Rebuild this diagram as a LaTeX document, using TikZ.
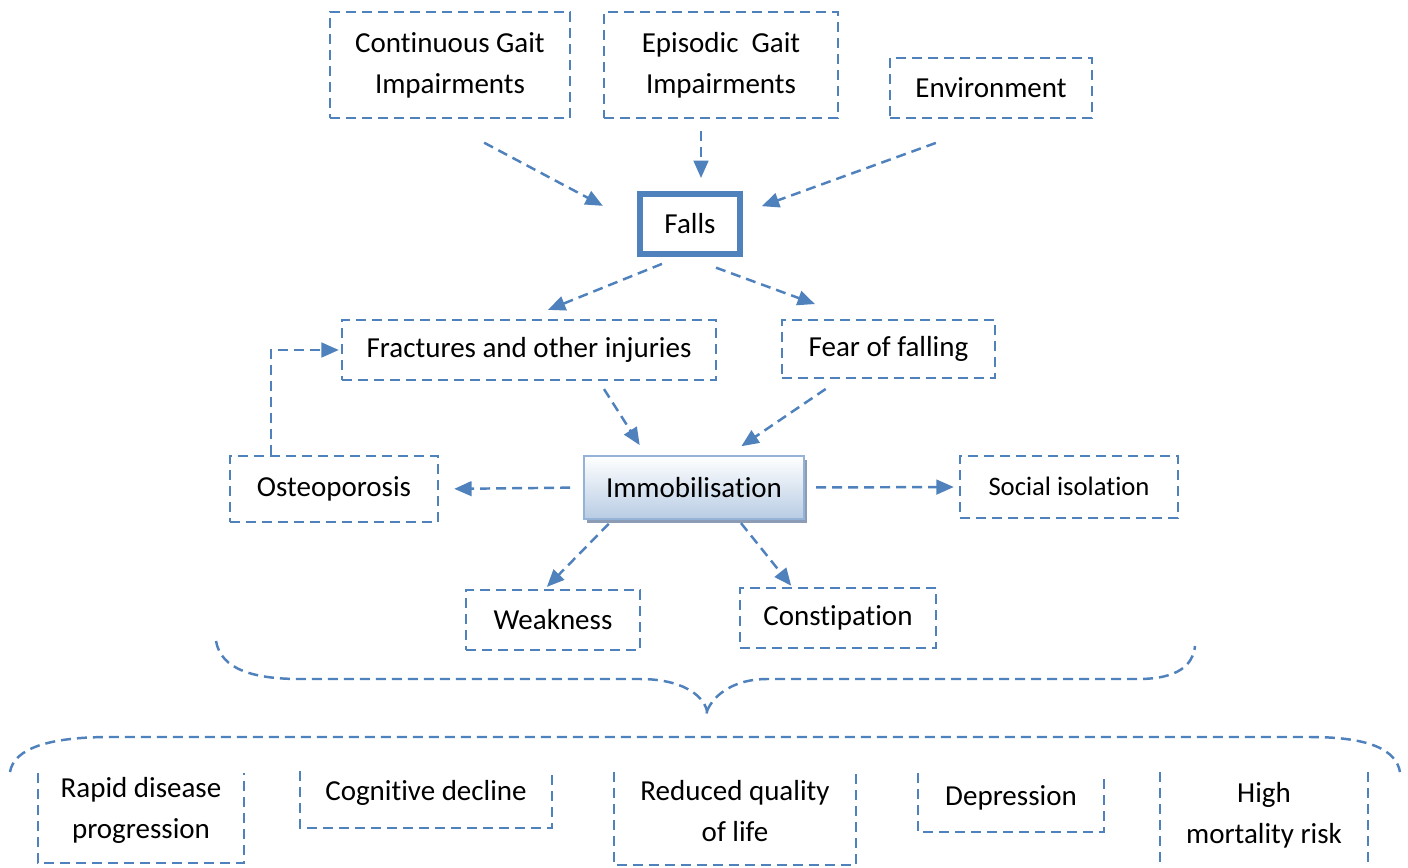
\documentclass[tikz,border=0pt]{standalone}
\usepackage{fontspec}
\setmainfont{Carlito}[Ligatures={NoCommon}]
\usetikzlibrary{arrows.meta,calc,shadows}
\definecolor{bl}{RGB}{79,129,189}
\definecolor{immbot}{RGB}{184,204,228}
\definecolor{immdraw}{RGB}{149,179,215}
\definecolor{immshadow}{RGB}{140,156,180}
\newcommand\mainsz{\fontsize{21.75pt}{30.75pt}\selectfont}
\newcommand\smallsz{\fontsize{20pt}{24pt}\selectfont}
\begin{document}
\begin{tikzpicture}[x=0.75pt,y=-0.75pt,
  dsh/.style={draw=bl, line width=1.85pt, dash pattern=on 7.5pt off 4.5pt},
  box/.style={dsh, align=center, inner sep=0pt, font=\mainsz},
  txt/.style={align=center, inner sep=0pt, font=\mainsz},
  arr/.style={dsh, -{Triangle[length=13pt,width=11pt]}}]
\fill[white] (0,0) rectangle (1408,867);
\useasboundingbox (0,0) rectangle (1408,867);

% top row
\node[box, minimum width=180pt, minimum height=79.5pt] (cont) at (450,65) {Continuous Gait\\Impairments};
\node[box, minimum width=175.5pt, minimum height=79.5pt] (epi) at (721,65) {Episodic\ \ Gait\\Impairments};
\node[box, minimum width=151.5pt, minimum height=45pt] (env) at (991,88) {Environment};

% falls
\node[draw=bl, line width=4.5pt, minimum width=75pt, minimum height=45pt, inner sep=0pt, font=\mainsz] (falls) at (690,224) {\raisebox{-1.5pt}{Falls}};

% second row
\node[box, minimum width=280.5pt, minimum height=45pt] (fract) at (529,350) {\raisebox{-1.5pt}{Fractures and other injuries}};
\node[box, minimum width=159.75pt, minimum height=43.5pt] (fear) at (888.5,349) {\raisebox{-1pt}{Fear of falling}};

% third row
\node[box, minimum width=156pt, minimum height=49.5pt] (osteo) at (334,489) {Osteoporosis};
\node[draw=immdraw, line width=1.5pt, top color=white, bottom color=immbot,
      drop shadow={shadow xshift=2.5pt, shadow yshift=-3pt, fill=immshadow, opacity=1},
      minimum width=165pt, minimum height=47.25pt, inner sep=0pt, font=\mainsz] (immob) at (694,487.5) {Immobilisation};
\node[box, minimum width=163.5pt, minimum height=46.5pt, font=\smallsz] (social) at (1069,487) {\raisebox{1.5pt}{Social isolation}};

% fourth row
\node[box, minimum width=130.5pt, minimum height=45pt] (weak) at (553,620) {Weakness};
\node[box, minimum width=147pt, minimum height=45pt] (const) at (838,618) {\raisebox{-1.5pt}{Constipation}};

% arrows
\draw[arr, shorten <=37.5pt, shorten >=29pt] ($(cont.south)+(-10,0)$) -- (falls.west);
\draw[arr, shorten <=9pt, shorten >=9.75pt] ($(epi.south)+(-20,0)$) -- ($(falls.north)+(11,0)$);
\draw[arr, shorten <=52pt, shorten >=15pt] ($(env.south)+(10,0)$) -- ($(falls.east)+(0,-11)$);
\draw[arr, shorten <=13.8pt, shorten >=17.8pt] ($(falls.south)+(-11,0)$) -- ($(fract.north)+(-3,0)$);
\draw[arr, shorten <=23.2pt, shorten >=32pt] ($(falls.south)+(-3,0)$) -- ($(fear.north)+(-33.5,0)$);
\draw[arr, shorten <=7pt, shorten >=8.8pt] ($(fract.south)+(70,0)$) -- ($(immob.north)+(-48,0)$);
\draw[arr, shorten <=13pt, shorten >=11.7pt] ($(fear.south)+(-48.5,0)$) -- ($(immob.north)+(34.5,0)$);
\draw[arr, shorten <=9.75pt, shorten >=11.25pt] (immob.west) -- (osteo.east);
\draw[arr, shorten <=8.25pt, shorten >=3.75pt] (immob.east) -- (social.west);
\draw[arr, shorten <=4pt, shorten >=2pt] ($(immob.south)+(-81.5,0)$) -- ($(weak.north)+(-8,0)$);
\draw[arr, shorten <=3pt, shorten >=1pt] ($(immob.south)+(44.5,0)$) -- ($(const.north)+(-46,0)$);
\draw[arr, shorten >=1.5pt] ($(osteo.north west)+(42,0)$) |- (fract.west);

% braces
\draw[dsh] (216,641) .. controls (221,670) and (255,679) .. (300,679) -- (640,679)
  .. controls (680,679) and (703,694) .. (707,711) -- (706,718);
\draw[dsh] (707,711) .. controls (714,694) and (735,679) .. (767,679) -- (1138,679)
  .. controls (1178,679) and (1193,665) .. (1195,646);
\draw[dsh] (10,772) .. controls (14,748) and (50,737) .. (110,737) -- (1310,737)
  .. controls (1370,737) and (1396,750) .. (1400,772);

% bottom boxes (open on top)
\draw[dsh] (38,773) -- (38,863) -- (244,863) -- (244,773);
\draw[dsh] (300,771) -- (300,828) -- (552,828) -- (552,771);
\draw[dsh] (614,772) -- (614,865) -- (856,865) -- (856,772);
\draw[dsh] (918,773) -- (918,832) -- (1104,832) -- (1104,773);
\draw[dsh] (1160,772) -- (1160,867);
\draw[dsh] (1368,772) -- (1368,867);

\node[txt] (rapid) at (141,810) {Rapid disease\\progression};
\node[txt] (cog) at (426,793) {Cognitive decline};
\node[txt] (reduced) at (735,811) {Reduced quality\\of life};
\node[txt] (depr) at (1011,798) {Depression};
\node[txt] (high) at (1264,815) {High\\mortality risk};
\end{tikzpicture}
\end{document}
